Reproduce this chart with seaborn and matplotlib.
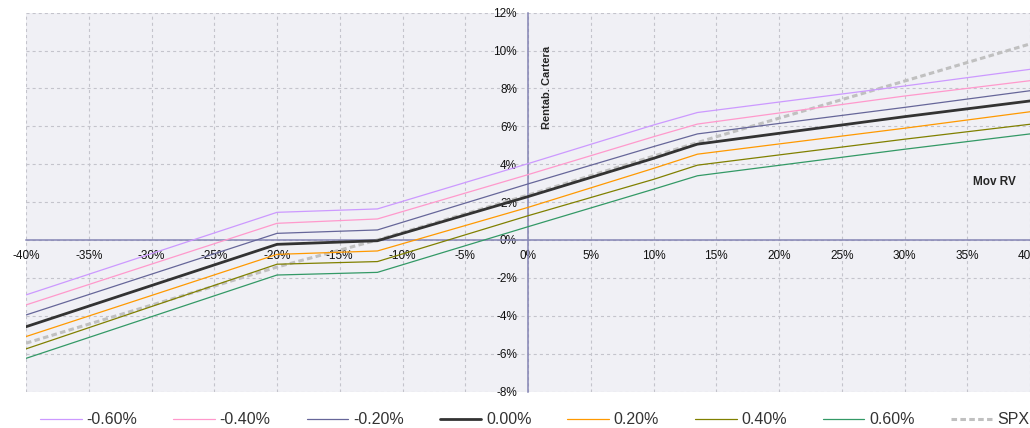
import numpy as np
import pandas as pd
import matplotlib
matplotlib.use("Agg")
import matplotlib.pyplot as plt
import seaborn as sns

# Rentabilidad cartera (%) vs movimiento renta variable (%)
mov_rv = [-40, -20, -12, 0, 10, 13.5, 30, 40]
serie_m060 = [-2.90, 1.46, 1.64, 4.03, 6.07, 6.73, 8.13, 9.01]
serie_m040 = [-3.43, 0.88, 1.11, 3.45, 5.45, 6.12, 7.60, 8.41]
serie_m020 = [-3.96, 0.35, 0.53, 2.96, 4.93, 5.60, 7.00, 7.88]
serie_000 = [-4.58, -0.23, -0.04, 2.29, 4.31, 5.06, 6.51, 7.34]
serie_p020 = [-5.10, -0.76, -0.58, 1.72, 3.78, 4.53, 5.90, 6.77]
serie_p040 = [-5.75, -1.28, -1.14, 1.28, 3.20, 3.95, 5.32, 6.11]
serie_p060 = [-6.25, -1.85, -1.71, 0.70, 2.68, 3.39, 4.79, 5.60]

spx_x = [-40, -20, -12, 0, 15, 40]
spx_y = [-5.45, -1.43, 0.0, 2.37, 5.45, 10.35]

labels = ["-0.60%", "-0.40%", "-0.20%", "0.00%", "0.20%", "0.40%", "0.60%"]
colores = ["#CC99FF", "#FF99CC", "#666699", "#333333", "#FF9900", "#808000", "#339966"]

x_ticks = list(range(-40, 45, 5))
y_ticks = list(range(-8, 14, 2))

sns.set_style("white")
plt.rcParams["font.family"] = ["Liberation Sans", "DejaVu Sans"]
plt.rcParams["axes.unicode_minus"] = False
plt.rcParams["lines.scale_dashes"] = False

fig = plt.figure(figsize=(10.30, 4.28), dpi=100)
ax = fig.add_axes([26 / 1030, 36.5 / 428, 1 - 26 / 1030, 378.8 / 428])
ax.set_facecolor("#F0F0F5")

series = [serie_m060, serie_m040, serie_m020, serie_000, serie_p020, serie_p040, serie_p060]
for vals, lab, col in zip(series, labels, colores):
    lw = 2.0 if lab == "0.00%" else 0.9
    sns.lineplot(x=mov_rv, y=vals, ax=ax, color=col, lw=lw, label=lab, zorder=3)

sns.lineplot(x=spx_x, y=spx_y, ax=ax, color="#C0C0C0", lw=2.2, label="SPX",
             dashes=False, zorder=2)
ax.lines[-1].set_dashes((4, 2.4))

ax.set_xlim(-40, 40)
ax.set_ylim(-8, 12)
ax.set_xticks(x_ticks)
ax.set_xticklabels([f"{t}%" for t in x_ticks])
ax.set_yticks(y_ticks)
ax.set_yticklabels([f"{t}%" for t in y_ticks])

ax.grid(True, color="#C4C4CC", ls=(0, (2.2, 2.2)), lw=0.8)
ax.set_axisbelow(True)

axis_col = "#8484B4"
for s in ["top", "right"]:
    ax.spines[s].set_visible(False)
ax.spines["left"].set_position(("data", 0))
ax.spines["bottom"].set_position(("data", 0))
for s in ["left", "bottom"]:
    ax.spines[s].set_color(axis_col)
    ax.spines[s].set_linewidth(1.1)
    ax.spines[s].set_zorder(1)
ax.tick_params(axis="both", direction="inout", length=5, width=1,
               color=axis_col, labelsize=8.5, labelcolor="#111111")
ax.tick_params(axis="y", pad=5.5)
ax.tick_params(axis="x", pad=4.5)

ax.text(1.5, 8.05, "Rentab. Cartera", rotation=90, fontsize=8, fontweight="bold",
        ha="center", va="center")
ax.text(37.2, 3.08, "Mov RV", fontsize=8.5, fontweight="bold", ha="center", va="center")

ax.legend(loc="center", bbox_to_anchor=(0.519, 0.019), bbox_transform=fig.transFigure,
          ncol=8, frameon=False, fontsize=11.5, handlelength=2.6, handletextpad=0.3,
          columnspacing=2.25, borderpad=0, labelcolor="#333333")

fig.savefig("out.png", dpi=100)
